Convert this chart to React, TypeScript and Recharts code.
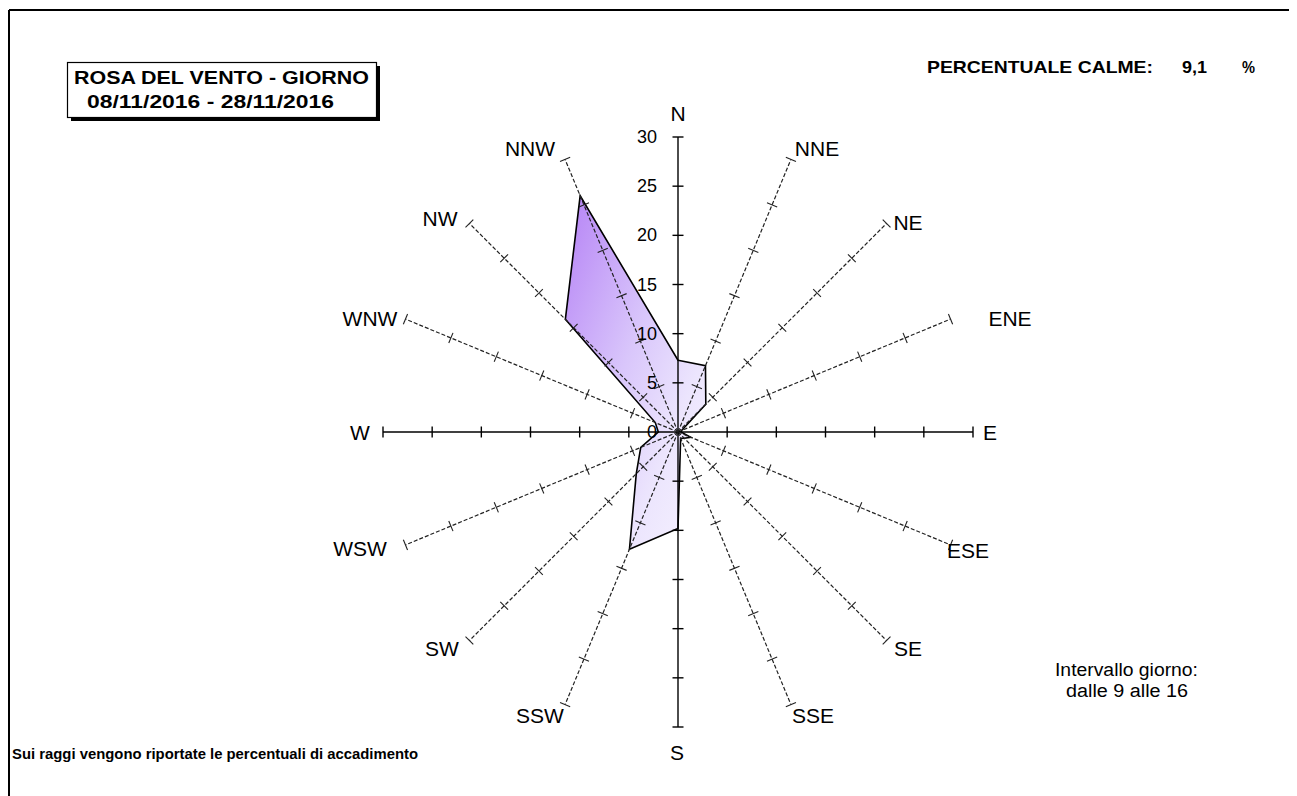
import React from 'react';
import { RadarChart, Radar, PolarAngleAxis, PolarRadiusAxis } from 'recharts';

// ---- data ----
const DIRECTIONS = ['N', 'NNE', 'NE', 'ENE', 'E', 'ESE', 'SE', 'SSE', 'S', 'SSW', 'SW', 'WSW', 'W', 'WNW', 'NW', 'NNW'];
const FREQUENCY = [7.3, 7.3, 4.0, 0.4, 0.3, 1.4, 0.9, 0.7, 9.8, 12.9, 6.0, 4.1, 2.0, 2.5, 16.2, 26.0];
const RADIAL_TICKS = [0, 5, 10, 15, 20, 25, 30];
const CALM_PERCENT = '9,1';

const data = DIRECTIONS.map((dir, i) => ({ dir, v: FREQUENCY[i] }));

// ---- layout ----
const W = 1289;
const H = 788;
const CX = 670;
const CY = 424;
const R = 295;
const RMAX = 30;
const FONT = '"Liberation Sans", Arial, Helvetica, sans-serif';

// label centres relative to the chart centre (px)
const LABEL_OFFSET: Record<string, [number, number]> = {
  N: [0, -319],
  NNE: [139, -284],
  NE: [230, -210],
  ENE: [332, -114],
  E: [312, 0],
  ESE: [290, 118],
  SE: [230, 216],
  SSE: [135, 283],
  S: [-1, 320],
  SSW: [-138, 283],
  SW: [-236, 216],
  WSW: [-318, 116],
  W: [-318, 0],
  WNW: [-308, -114],
  NW: [-238, -214],
  NNW: [-148, -284],
};

function Spoke(props: any) {
  const { payload } = props;
  const cx = CX;
  const cy = CY;
  const a = (payload.coordinate * Math.PI) / 180;
  const ux = Math.cos(a);
  const uy = -Math.sin(a);
  const px = -uy;
  const py = ux;
  const main = Math.round(payload.coordinate) % 90 === 0;
  const color = main ? '#000' : '#222';
  const half = 5.5;
  const ticks = RADIAL_TICKS.filter((t) => t > 0).map((t) => {
    const r = (t / RMAX) * R;
    const x = cx + ux * r;
    const y = cy + uy * r;
    return (
      <line
        key={t}
        x1={x - px * half}
        y1={y - py * half}
        x2={x + px * half}
        y2={y + py * half}
        stroke={color}
        strokeWidth={main ? 1.4 : 1.1}
      />
    );
  });
  const off = LABEL_OFFSET[payload.value] || [0, 0];
  return (
    <g>
      <line
        x1={cx}
        y1={cy}
        x2={cx + ux * R}
        y2={cy + uy * R}
        stroke={color}
        strokeWidth={main ? 1.4 : 1.2}
        strokeDasharray={main ? undefined : '4 2'}
      />
      {ticks}
      <text
        x={cx + off[0]}
        y={cy + off[1]}
        textAnchor="middle"
        dominantBaseline="central"
        fontFamily={FONT}
        fontSize={21}
        fill="#000"
      >
        {payload.value}
      </text>
    </g>
  );
}

function RadiusTick(props: any) {
  const { x, y, payload } = props;
  return (
    <text
      x={x - 21}
      y={y}
      textAnchor="end"
      dominantBaseline="central"
      fontFamily={FONT}
      fontSize={18}
      fill="#000"
    >
      {payload.value}
    </text>
  );
}

export default function App() {
  return (
    <div style={{ position: 'relative', width: W, height: H, background: '#fff' }}>
      <RadarChart
        width={W}
        height={H}
        data={data}
        cx={CX}
        cy={CY}
        outerRadius={R}
        margin={{ top: 0, right: 0, bottom: 0, left: 0 }}
      >
        <defs>
          <linearGradient id="windGrad" x1="0" y1="0" x2="1" y2="1">
            <stop offset="0" stopColor="#b582f5" />
            <stop offset="0.45" stopColor="#d9c6fb" />
            <stop offset="0.72" stopColor="#ece5fd" />
            <stop offset="1" stopColor="#f6f3ff" />
          </linearGradient>
        </defs>
        <Radar
          dataKey="v"
          stroke="#000"
          strokeWidth={1.6}
          fill="url(#windGrad)"
          fillOpacity={1}
          dot={false}
          isAnimationActive={false}
        />
        <PolarAngleAxis dataKey="dir" axisLine={false} tickLine={false} tick={(p: any) => <Spoke {...p} />} />
        <PolarRadiusAxis
          angle={90}
          domain={[0, RMAX]}
          ticks={RADIAL_TICKS}
          tickCount={7}
          axisLine={false}
          tick={(p: any) => <RadiusTick {...p} />}
        />
      </RadarChart>

      <svg
        width={W}
        height={H}
        style={{ position: 'absolute', left: 0, top: 0, pointerEvents: 'none' }}
      >
        {/* frame */}
        <line x1={1} y1={2} x2={W} y2={2} stroke="#000" strokeWidth={2} />
        <line x1={1} y1={2} x2={1} y2={H} stroke="#000" strokeWidth={2} />

        {/* title box */}
        <rect x={63} y={58} width={309} height={55} fill="#000" />
        <rect x={59.5} y={54.5} width={309} height={55} fill="#fff" stroke="#000" strokeWidth={1.2} />
        <text
          x={213.5}
          y={76}
          textAnchor="middle"
          fontFamily={FONT}
          fontWeight="bold"
          fontSize={19}
          textLength={295}
          lengthAdjust="spacingAndGlyphs"
        >
          ROSA DEL VENTO - GIORNO
        </text>
        <text
          x={202.5}
          y={100}
          textAnchor="middle"
          fontFamily={FONT}
          fontWeight="bold"
          fontSize={19}
          textLength={247}
          lengthAdjust="spacingAndGlyphs"
        >
          08/11/2016 - 28/11/2016
        </text>

        {/* calm percentage */}
        <text x={919} y={65} fontFamily={FONT} fontWeight="bold" fontSize={17} textLength={226} lengthAdjust="spacingAndGlyphs">
          PERCENTUALE CALME:
        </text>
        <text x={1174} y={65} fontFamily={FONT} fontWeight="bold" fontSize={17} textLength={25} lengthAdjust="spacingAndGlyphs">
          {CALM_PERCENT}
        </text>
        <text x={1234} y={65} fontFamily={FONT} fontWeight="bold" fontSize={17} textLength={13} lengthAdjust="spacingAndGlyphs">
          %
        </text>

        {/* interval note */}
        <text x={1118.5} y={668} textAnchor="middle" fontFamily={FONT} fontSize={18} textLength={143} lengthAdjust="spacingAndGlyphs">
          Intervallo giorno:
        </text>
        <text x={1119} y={689} textAnchor="middle" fontFamily={FONT} fontSize={18} textLength={122} lengthAdjust="spacingAndGlyphs">
          dalle 9 alle 16
        </text>

        {/* footer */}
        <text x={4} y={751} fontFamily={FONT} fontWeight="bold" fontSize={14} textLength={406} lengthAdjust="spacingAndGlyphs">
          Sui raggi vengono riportate le percentuali di accadimento
        </text>
      </svg>
    </div>
  );
}
